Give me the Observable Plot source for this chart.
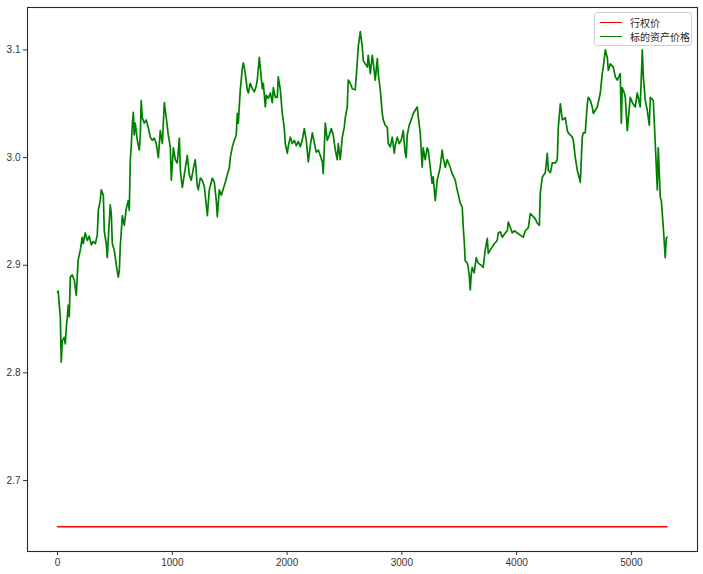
<!DOCTYPE html>
<html>
<head>
<meta charset="utf-8">
<script src="https://cdn.jsdelivr.net/npm/d3@7"></script>
<script src="https://cdn.jsdelivr.net/npm/@observablehq/plot@0.6"></script>
<style>
  body { margin: 0; background: #fff; }
  #wrap { position: relative; width: 703px; height: 574px; }
  #legend {
    position: absolute; left: 594px; top: 12px; width: 96px; height: 32px;
    border: 1px solid #d0d0d0; border-radius: 3px; background: rgba(255,255,255,0.85);
    font-family: "Noto Sans CJK SC", "Noto Sans", sans-serif; font-size: 10px; color: #262626;
  }
  .row { position: absolute; left: 5px; height: 14px; display: flex; align-items: center; }
  .sw { width: 22px; height: 0; border-top: 1.5px solid; margin-right: 8px; }
</style>
</head>
<body>
<div id="wrap"><div id="legend"></div></div>
<script>
// time steps (x) of the underlying price path
const steps = [0,6,15,24,32,41,58,67,76,85,93,102,111,128,146,163,172,180,198,215,224,241,259,276,294,311,329,346,355,372,381,399,407,425,433,442,459,468,477,494,512,529,538,547,555,564,581,599,616,625,634,642,651,660,668,677,695,712,721,729,738,756,773,790,808,825,843,860,878,895,913,930,947,965,982,991,1009,1026,1043,1061,1070,1087,1104,1130,1148,1165,1183,1200,1217,1226,1244,1261,1279,1305,1322,1348,1366,1383,1392,1409,1427,1444,1462,1479,1496,1505,1523,1540,1557,1566,1575,1592,1610,1619,1636,1653,1662,1679,1697,1714,1732,1740,1758,1766,1784,1793,1810,1819,1836,1854,1871,1880,1897,1915,1923,1941,1958,1976,1984,2002,2011,2028,2045,2063,2080,2098,2115,2132,2150,2167,2185,2202,2220,2237,2254,2272,2289,2307,2315,2333,2350,2368,2385,2402,2420,2437,2446,2463,2481,2498,2507,2524,2533,2550,2568,2594,2611,2620,2638,2655,2664,2681,2699,2707,2725,2742,2751,2768,2786,2794,2812,2829,2838,2855,2873,2881,2899,2916,2934,2942,2960,2977,2994,3012,3029,3038,3047,3064,3081,3099,3116,3134,3142,3160,3177,3186,3203,3221,3230,3247,3264,3273,3291,3308,3334,3351,3360,3378,3395,3421,3439,3465,3482,3508,3526,3535,3543,3552,3570,3578,3587,3596,3604,3613,3630,3648,3665,3692,3709,3726,3744,3753,3770,3788,3805,3831,3840,3858,3875,3901,3919,3927,3945,3962,3980,4006,4032,4058,4076,4102,4119,4137,4163,4180,4198,4206,4224,4250,4267,4276,4294,4311,4337,4354,4363,4381,4398,4424,4442,4450,4468,4485,4494,4511,4529,4537,4555,4572,4581,4598,4616,4624,4642,4659,4668,4685,4703,4729,4746,4755,4773,4790,4799,4816,4842,4860,4877,4894,4903,4912,4920,4938,4947,4964,4990,5008,5034,5051,5060,5077,5095,5104,5121,5138,5156,5165,5191,5208,5226,5234,5252,5261,5278,5295,5304,5311];

// underlying asset price (标的资产价格)
const prices = [2.875,2.876,2.863,2.852,2.810,2.830,2.833,2.827,2.842,2.852,2.863,2.852,2.889,2.891,2.886,2.872,2.891,2.905,2.914,2.926,2.920,2.930,2.923,2.927,2.919,2.922,2.920,2.928,2.951,2.960,2.970,2.965,2.932,2.919,2.907,2.925,2.956,2.948,2.920,2.914,2.900,2.889,2.895,2.919,2.931,2.946,2.937,2.953,2.960,2.951,2.998,3.011,3.030,3.042,3.021,3.032,3.016,3.007,3.021,3.053,3.037,3.032,3.035,3.028,3.019,3.016,3.018,3.013,3.000,3.025,3.013,3.051,3.037,3.021,3.010,2.979,3.009,2.998,2.995,3.018,2.988,2.972,2.984,3.002,2.984,2.979,2.990,2.998,2.974,2.970,2.981,2.979,2.973,2.946,2.970,2.981,2.977,2.960,2.945,2.970,2.965,2.971,2.977,2.984,2.990,3.000,3.010,3.016,3.021,3.041,3.032,3.063,3.083,3.088,3.078,3.063,3.060,3.069,3.064,3.061,3.067,3.072,3.093,3.084,3.064,3.069,3.047,3.058,3.055,3.060,3.051,3.065,3.056,3.056,3.075,3.063,3.041,3.027,3.013,3.004,3.011,3.019,3.013,3.016,3.011,3.015,3.010,3.016,3.027,3.016,2.996,3.011,3.023,3.014,3.005,3.007,3.002,2.996,2.985,3.032,3.016,3.021,3.027,3.021,3.007,2.998,3.013,2.998,3.019,3.028,3.037,3.047,3.072,3.069,3.064,3.063,3.088,3.103,3.117,3.103,3.090,3.087,3.084,3.095,3.078,3.095,3.088,3.072,3.092,3.078,3.063,3.041,3.035,3.030,3.028,3.013,3.010,3.019,3.004,3.011,3.019,3.013,3.016,3.025,3.004,3.000,3.021,3.030,3.035,3.041,3.044,3.047,3.039,3.023,2.991,3.009,2.998,3.009,3.007,2.991,2.976,2.982,2.960,2.979,2.991,3.007,3.000,2.991,2.998,2.991,2.985,2.979,2.970,2.958,2.954,2.935,2.923,2.904,2.902,2.898,2.891,2.877,2.891,2.898,2.893,2.907,2.902,2.900,2.898,2.914,2.925,2.911,2.914,2.917,2.920,2.923,2.930,2.931,2.926,2.930,2.932,2.940,2.935,2.930,2.932,2.930,2.928,2.926,2.932,2.935,2.948,2.946,2.943,2.939,2.937,2.967,2.982,2.986,3.004,2.988,2.986,2.995,2.995,2.998,3.028,3.050,3.035,3.037,3.025,3.023,3.021,3.019,3.016,3.000,2.988,2.985,2.977,3.019,3.023,3.023,3.050,3.056,3.053,3.047,3.041,3.044,3.047,3.060,3.078,3.084,3.100,3.093,3.081,3.087,3.084,3.075,3.072,3.076,3.078,3.032,3.065,3.060,3.056,3.025,3.056,3.051,3.047,3.060,3.056,3.047,3.100,3.075,3.053,3.044,3.030,3.056,3.053,3.013,2.970,3.009,2.963,2.960,2.935,2.907,2.925,2.926];

// strike price line (行权价)
const strikeX = [0, 5311];
const strikePrice = 2.657;

const seriesNames = ["行权价", "标的资产价格"];
const seriesColors = ["red", "green"];
const xTicks = [0, 1000, 2000, 3000, 4000, 5000];
const yTicks = [2.7, 2.8, 2.9, 3.0, 3.1];

const pricePath = steps.map((t, i) => ({t, p: prices[i]}));
const strikeLine = strikeX.map(t => ({t, p: strikePrice}));

const yMin = 2.6341, yMax = 3.1394;

const chart = Plot.plot({
  width: 703,
  height: 574,
  marginLeft: 27,
  marginRight: 6,
  marginTop: 7,
  marginBottom: 23,
  style: {fontFamily: "'Liberation Sans', Arial, sans-serif", fontSize: "10px", color: "#333", background: "#fff"},
  x: {domain: [-262, 5576], ticks: xTicks, tickFormat: d3.format("d"), tickSize: 4, tickPadding: 3, label: null},
  y: {domain: [yMin, yMax], ticks: yTicks, tickFormat: d3.format(".1f"), tickSize: 4, tickPadding: 3, label: null},
  marks: [
    Plot.line(strikeLine, {x: "t", y: "p", stroke: seriesColors[0], strokeWidth: 1.5}),
    Plot.line(pricePath, {x: "t", y: "p", stroke: seriesColors[1], strokeWidth: 1.7, strokeLinejoin: "round"}),
    Plot.frame({stroke: "#262626", strokeWidth: 1.1})
  ]
});
document.getElementById("wrap").prepend(chart);

const legend = document.getElementById("legend");
seriesNames.forEach((name, i) => {
  const row = document.createElement("div");
  row.className = "row";
  row.style.top = (2 + i * 14) + "px";
  const sw = document.createElement("span");
  sw.className = "sw";
  sw.style.borderColor = seriesColors[i];
  const label = document.createElement("span");
  label.textContent = name;
  row.append(sw, label);
  legend.append(row);
});
</script>
</body>
</html>
